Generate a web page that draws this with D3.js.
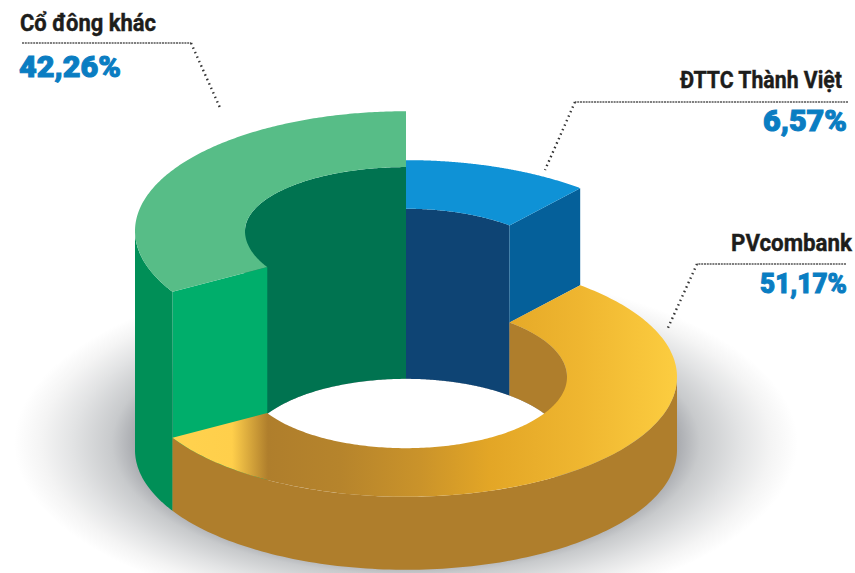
<!DOCTYPE html>
<html><head><meta charset="utf-8">
<script src="https://cdn.jsdelivr.net/npm/d3@7"></script>
<style>html,body{margin:0;padding:0;background:#fff}svg{display:block}text{font-family:Roboto,sans-serif}</style>
</head><body><svg id="c" width="855" height="573"></svg>
<script>
// Labelled shareholder data, clockwise from 12 o'clock: blue, yellow, green
const categories = ["ĐTTC Thành Việt", "PVcombank", "Cổ đông khác"];
const percentLabels = ["6,57%", "51,17%", "42,26%"];
// The picture's slices are not drawn to proportion; these are the sweeps read off it (degrees)
const sweepsRead = [40, 199.5, 120.5];
// Extrusion of each slice, in multiples of the shortest slice
const levels = [2.33, 1, 3.0];

const colors = {
  top: ["#0F92D6", "url(#ygrad)", "#57BD87"],
  outer: ["#05609A", "#AF7E2C", "#008F57"],
  inner: ["#0E4474", "#AF7E2C", "#007350"],
  cut: ["#05609A", null, "#00AE6B"]
};

const cx = 406, baseY = 450, tilt = 0.442, R = 271, r = 161;
const backTilt = [0.442, 0.442, 0.397]; // rear inner rim of each slice
const svg = d3.select("#c");
const defs = svg.append("defs");

// Scales
const levelY = d3.scaleLinear().domain([0, 1]).range([baseY, 377]);
const arcs = d3.pie().sort(null).value(d => d)(sweepsRead);
const HALF = Math.PI / 2;
const px = (rad, a) => cx + rad * Math.sin(a);
const py = (rad, a, y0, t = tilt) => y0 - rad * t * Math.cos(a);
const innerT = (i, a) => Math.cos(a) > 0 ? backTilt[i] : tilt;
const samples = (a0, a1, n = 120) => d3.range(n + 1).map(k => a0 + (a1 - a0) * k / n);

// Gradients
const yg = defs.append("linearGradient").attr("id", "ygrad").attr("gradientUnits", "userSpaceOnUse")
  .attr("x1", 172).attr("x2", 677).attr("y1", 0).attr("y2", 0);
[[172,"#FFD24E"],[232,"#FFCF4B"],[268,"#AF7E2C"],[340,"#B6842C"],[420,"#CA932A"],[490,"#E3A626"],[580,"#EFB630"],[677,"#FCCD40"]]
  .forEach(([x, c]) => yg.append("stop").attr("offset", (x - 172) / 505).attr("stop-color", c));
const sg = defs.append("radialGradient").attr("id", "shadow");
[[0,"#a0a2a7"],[0.68,"#a3a5aa"],[0.75,"#c8cacc"],[0.85,"#e2e3e4"],[0.93,"#f4f4f4"],[1,"#ffffff"]]
  .forEach(([o, c]) => sg.append("stop").attr("offset", o).attr("stop-color", c));

// Shadow and hole
svg.append("ellipse").attr("cx", cx).attr("cy", 443).attr("rx", 392).attr("ry", 175).attr("fill", "url(#shadow)");
svg.append("ellipse").attr("cx", cx).attr("cy", baseY).attr("rx", r).attr("ry", r * tilt).attr("fill", "#fff");

function wall(rad, a0, a1, yTop, yBot, fill, tTop = () => tilt) {
  if (a1 <= a0) return;
  const area = d3.area().x(a => px(rad, a)).y0(a => py(rad, a, yBot)).y1(a => py(rad, a, yTop, tTop(a)));
  svg.append("path").attr("d", area(samples(a0, a1))).attr("fill", fill);
}
function cutFace(i, a, yBot, fill) {
  const yTop = levelY(levels[i]), t = innerT(i, a);
  svg.append("path").attr("fill", fill).attr("d", d3.line()([
    [px(r, a), py(r, a, yTop, t)], [px(R, a), py(R, a, yTop)],
    [px(R, a), py(R, a, yBot)], [px(r, a), py(r, a, yBot)]
  ]) + "Z");
}

// Inner walls: only the rear half of the rim faces the viewer
[2, 0, 1].forEach(i => {
  const s = arcs[i], y = levelY(levels[i]);
  wall(r, s.startAngle, Math.min(s.endAngle, HALF), y, baseY, colors.inner[i], a => innerT(i, a));
  wall(r, Math.max(s.startAngle, 3 * HALF), s.endAngle, y, baseY, colors.inner[i], a => innerT(i, a));
});
// Cut faces
cutFace(2, arcs[2].startAngle, baseY, colors.cut[2]);
cutFace(0, arcs[0].endAngle, levelY(levels[1]), colors.cut[0]);
// Outer walls: only the front half of the rim faces the viewer
[2, 1, 0].forEach(i => {
  const s = arcs[i], y = levelY(levels[i]);
  wall(R, Math.max(s.startAngle, HALF), Math.min(s.endAngle, 3 * HALF), y, baseY, colors.outer[i]);
});
// Top faces
[2, 0, 1].forEach(i => {
  const s = arcs[i], y = levelY(levels[i]);
  const line = d3.line();
  const outerPts = samples(s.startAngle, s.endAngle, 200).map(a => [px(R, a), py(R, a, y)]);
  const innerPts = samples(s.endAngle, s.startAngle, 200).map(a => [px(r, a), py(r, a, y, innerT(i, a))]);
  svg.append("path").attr("d", line(outerPts.concat(innerPts)) + "Z").attr("fill", colors.top[i]);
});

// Leaders
function leader(x0, x1, y, sx, sy) {
  svg.append("line").attr("x1", x0).attr("x2", x1).attr("y1", y).attr("y2", y)
    .attr("stroke", "#555").attr("stroke-width", 1.3).attr("stroke-dasharray", "2 0.8");
  svg.append("line").attr("x1", x1).attr("x2", sx).attr("y1", y).attr("y2", sy)
    .attr("stroke", "#333").attr("stroke-width", 2.4).attr("stroke-dasharray", "1.5 3.4");
}
leader(22, 191, 43, 221, 110);
leader(848, 575, 102, 545, 170);
leader(846, 697, 264, 667, 330);

// Labels
function label(text, x, y, size, weight, color, len, sw) {
  svg.append("text").attr("x", x).attr("y", y)
    .attr("font-size", size).attr("font-weight", weight).attr("fill", color)
    .attr("stroke", color).attr("stroke-width", sw)
    .attr("textLength", len).attr("lengthAdjust", "spacingAndGlyphs").text(text);
}
const nameFill = "#1d1d1b", pctFill = "#0A7DC2";
label(categories[2], 20, 31, 23, 700, nameFill, 136, 0.4);
label(percentLabels[2], 19, 77, 29, 900, pctFill, 102, 1);
label(categories[0], 680, 88, 23, 700, nameFill, 162, 0.4);
label(percentLabels[0], 763, 131, 29, 900, pctFill, 84, 1);
label(categories[1], 731, 251, 23, 700, nameFill, 121, 0.4);
label(percentLabels[1], 760, 293, 28, 900, pctFill, 87, 1);
</script></body></html>
